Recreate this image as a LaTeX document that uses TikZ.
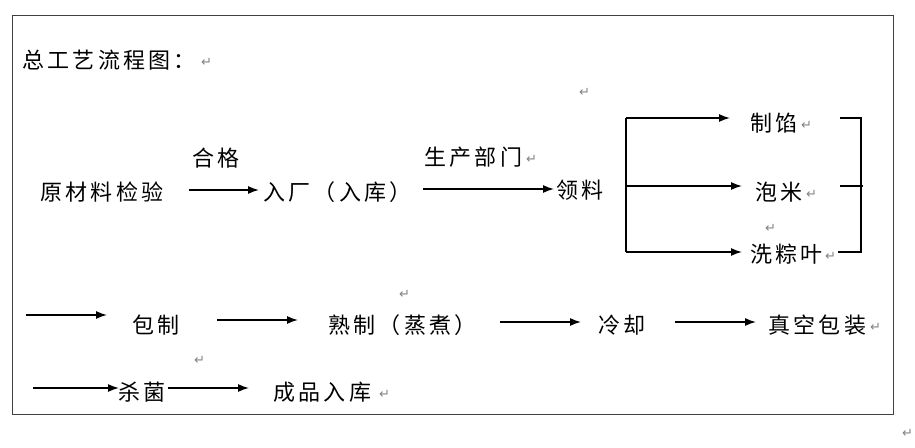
\documentclass[tikz,border=0pt]{standalone}
\usepackage{fontspec}
\newfontfamily\cjk[LetterSpace=15]{Noto Sans CJK SC}
\newfontfamily\sym{DejaVu Sans}
\usetikzlibrary{arrows.meta}
\definecolor{markgray}{RGB}{130,130,130}
\tikzset{
  txt/.style={anchor=west, inner sep=0pt, font=\cjk\fontsize{22}{24}\selectfont},
  ret/.style={anchor=west, inner sep=0pt, text=markgray, font=\sym\fontsize{13}{14}\selectfont},
  arr/.style={line width=1.4pt, -{Latex[length=11pt,width=8pt]}},
  ln/.style={line width=1.4pt},
}
\begin{document}
\begin{tikzpicture}[x=1pt,y=-1pt]
\useasboundingbox (0,0) rectangle (915,447);
\draw[line width=0.8pt, black!75] (12,15) rectangle (893,414);
% title
\node[txt] (title) at (22,60) {总工艺流程图：};
\node[ret] (r0) at (201,62) {↵};
\node[ret] (r1) at (579,92) {↵};
% row 1
\node[txt] (yuan) at (40,192) {原材料检验};
\node[txt] (hege) at (192,158) {合格};
\coordinate (a1s) at (189,190);
\coordinate (a1e) at (259,190);
\draw[arr] (a1s) -- (a1e);
\node[txt] (ruchang) at (263,192) {入厂（入库）};
\node[txt] (sheng) at (424,157) {生产部门};
\node[ret] (r2) at (526,159) {↵};
\coordinate (a2s) at (423,189);
\coordinate (a2e) at (554,189);
\draw[arr] (a2s) -- (a2e);
\node[txt] (ling) at (556,190) {领料};
% branch
\coordinate (bt) at (626,118);
\coordinate (bm) at (626,186);
\coordinate (bb) at (626,252);
\coordinate (bte) at (730,118);
\coordinate (bme) at (742,186);
\coordinate (bbe) at (742,252);
\draw[ln] (bt) -- (bb);
\draw[arr] (bt) -- (bte);
\draw[arr] (bm) -- (bme);
\draw[arr] (bb) -- (bbe);
\node[txt] (zhixian) at (750,123) {制馅};
\node[ret] (r3) at (801,125) {↵};
\node[txt] (paomi) at (755,192) {泡米};
\node[ret] (r4) at (806,194) {↵};
\node[ret] (r5) at (765,228) {↵};
\node[txt] (xi) at (750,254) {洗粽叶};
\node[ret] (r6) at (825,256) {↵};
% bracket
\coordinate (k1) at (840,118);
\coordinate (k1e) at (861,118);
\coordinate (k2) at (840,186);
\coordinate (k2e) at (863,186);
\coordinate (k3) at (838,252);
\coordinate (k3e) at (861,252);
\draw[ln] (k1) -- (k1e) -- (k3e) -- (k3);
\draw[ln] (k2) -- (k2e);
% row 2
\coordinate (c1s) at (26,315);
\coordinate (c1e) at (107,315);
\draw[arr] (c1s) -- (c1e);
\node[txt] (bao) at (132,325) {包制};
\coordinate (c2s) at (217,320);
\coordinate (c2e) at (298,320);
\draw[arr] (c2s) -- (c2e);
\node[ret] (r7) at (399,294) {↵};
\node[txt] (shu) at (328,325) {熟制（蒸煮）};
\coordinate (c3s) at (500,322);
\coordinate (c3e) at (581,322);
\draw[arr] (c3s) -- (c3e);
\node[txt] (leng) at (598,325) {冷却};
\coordinate (c4s) at (675,322);
\coordinate (c4e) at (756,322);
\draw[arr] (c4s) -- (c4e);
\node[txt] (zhen) at (768,325) {真空包装};
\node[ret] (r8) at (870,327) {↵};
% row 3
\node[ret] (r9) at (194,360) {↵};
\coordinate (d1s) at (33,388);
\coordinate (d1e) at (119,388);
\draw[arr] (d1s) -- (d1e);
\node[txt] (sha) at (118,392) {杀菌};
\coordinate (d2s) at (168,388);
\coordinate (d2e) at (249,388);
\draw[arr] (d2s) -- (d2e);
\node[txt] (cheng) at (273,392) {成品入库};
\node[ret] (r10) at (379,394) {↵};
\node[ret] (r11) at (902,433) {↵};
\end{tikzpicture}
\end{document}
